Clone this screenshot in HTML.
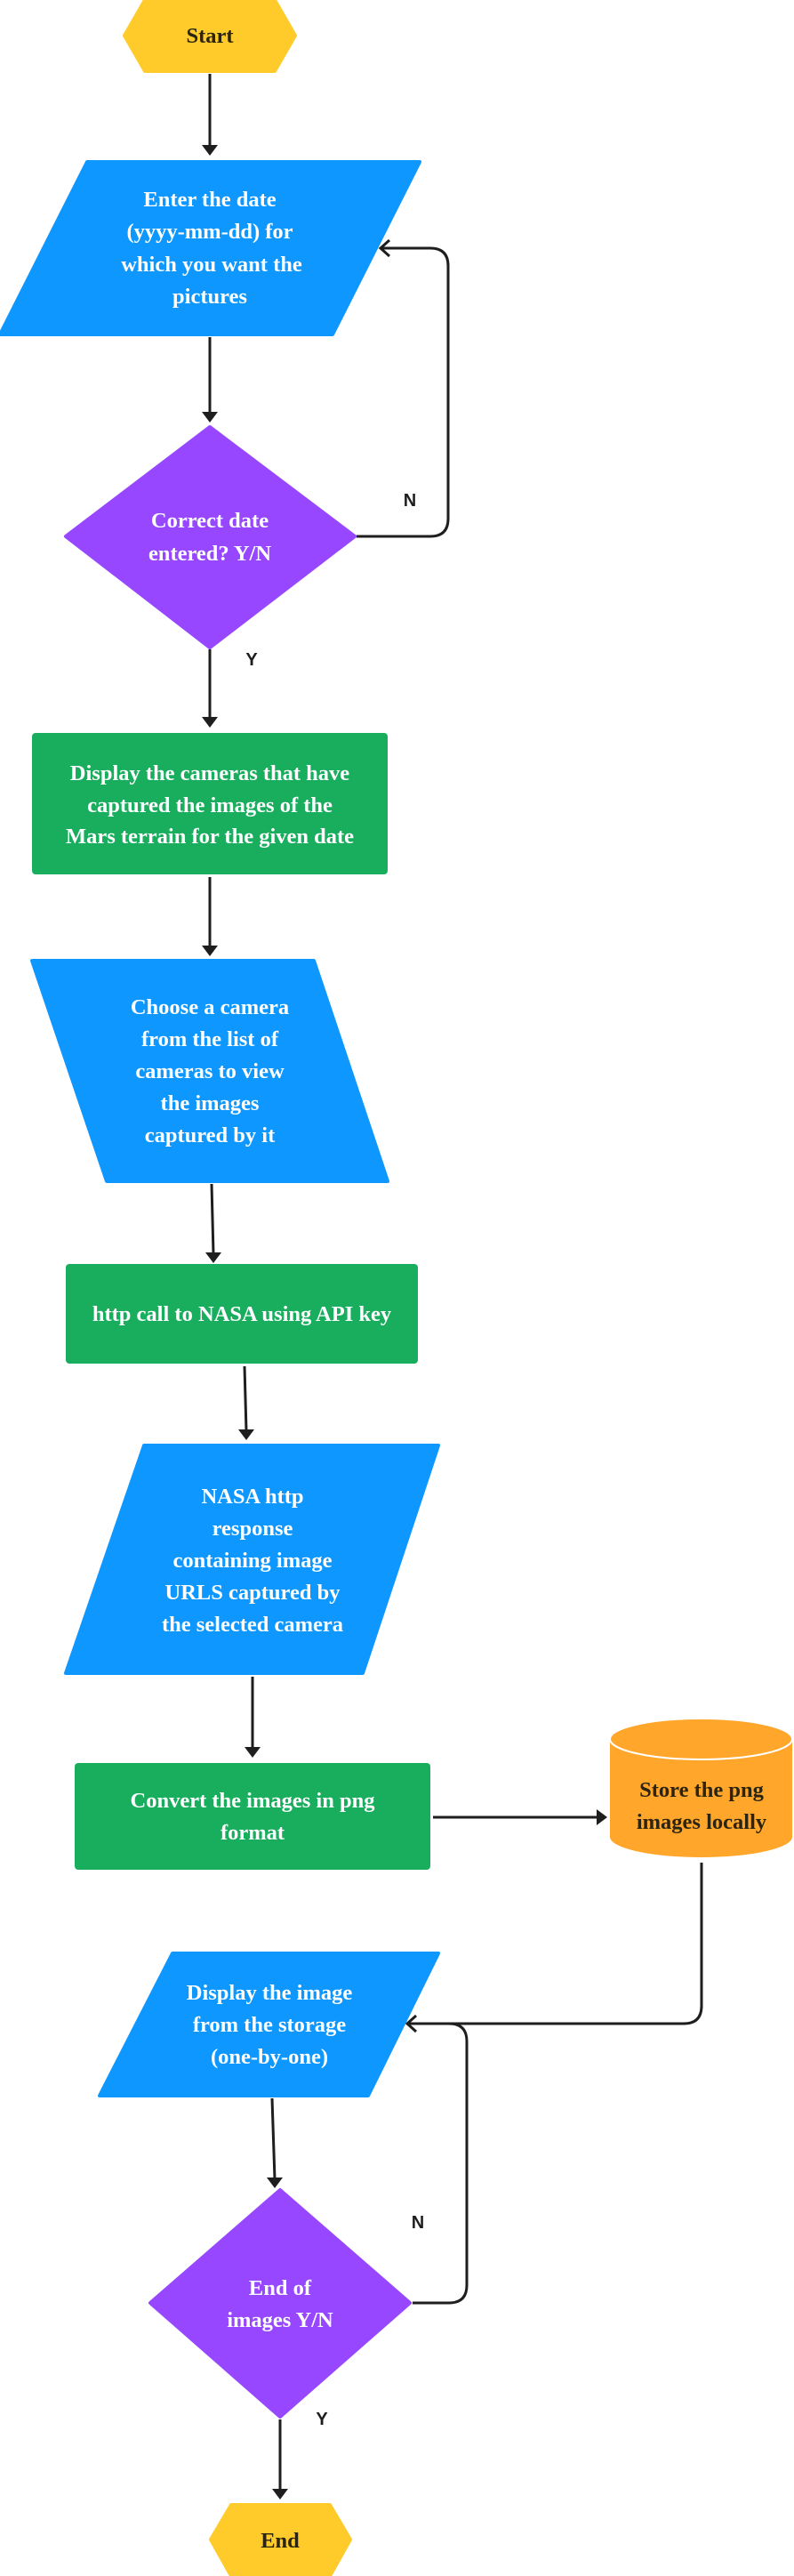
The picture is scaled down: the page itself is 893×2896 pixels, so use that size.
<!DOCTYPE html>
<html><head><meta charset="utf-8"><style>
html,body{margin:0;padding:0;background:#fff;}
svg{display:block;}
text{font-family:"Liberation Serif",serif;font-weight:bold;font-size:24.5px;text-anchor:middle;fill:#fff;}
.d{fill:#2b2410;}
.l{font-family:"Liberation Sans",sans-serif;font-size:20px;fill:#1e1e1e;}
.c{stroke:#1e1e1e;stroke-width:3;fill:none;}
</style></head><body>
<svg width="893" height="2896" viewBox="0 0 893 2896" xmlns="http://www.w3.org/2000/svg">
<!-- Start -->
<polygon points="163,0 309,0 332,40 309,80 163,80 140,40" fill="#FFCB2B" stroke="#FFCB2B" stroke-width="4" stroke-linejoin="round"/>
<text x="236" y="48" class="d">Start</text>
<line x1="236" y1="83" x2="236" y2="165" class="c"/><path d="M227,163 L245,163 L236,175 z" fill="#1e1e1e"/>
<!-- para1 -->
<polygon points="98,182 472,182 374,376 0,376" fill="#0E97FF" stroke="#0E97FF" stroke-width="4" stroke-linejoin="round"/>
<text x="236" y="232">Enter the date</text>
<text x="236" y="268">(yyyy-mm-dd) for</text>
<text x="238" y="305">which you want the</text>
<text x="236" y="341">pictures</text>
<line x1="236" y1="379" x2="236" y2="465" class="c"/><path d="M227,463 L245,463 L236,475 z" fill="#1e1e1e"/>
<!-- diamond1 -->
<polygon points="236,480 399,603 236,728 74,603" fill="#9747FF" stroke="#9747FF" stroke-width="4" stroke-linejoin="round"/>
<text x="236" y="593">Correct date</text>
<text x="236" y="630">entered? Y/N</text>
<path d="M401,603 L484,603 Q504,603 504,583 L504,299 Q504,279 484,279 L428,279" class="c"/>
<path d="M438,270 L428,279 L438,288" class="c"/>
<text x="461" y="569" class="l">N</text>
<text x="283" y="748" class="l">Y</text>
<line x1="236" y1="730" x2="236" y2="808" class="c"/><path d="M227,806 L245,806 L236,818 z" fill="#1e1e1e"/>
<!-- green1 -->
<rect x="36" y="824" width="400" height="159" rx="4" fill="#18AE5D"/>
<text x="236" y="877">Display the cameras that have</text>
<text x="236" y="913">captured the images of the</text>
<text x="236" y="948">Mars terrain for the given date</text>
<line x1="236" y1="986" x2="236" y2="1065" class="c"/><path d="M227,1063 L245,1063 L236,1075 z" fill="#1e1e1e"/>
<!-- para2 -->
<polygon points="36,1080 353,1080 436,1328 120,1328" fill="#0E97FF" stroke="#0E97FF" stroke-width="4" stroke-linejoin="round"/>
<text x="236" y="1140">Choose a camera</text>
<text x="236" y="1176">from the list of</text>
<text x="236" y="1212">cameras to view</text>
<text x="236" y="1248">the images</text>
<text x="236" y="1284">captured by it</text>
<line x1="238" y1="1331" x2="240" y2="1410" class="c"/><path d="M231,1408 L249,1408 L240,1420 z" fill="#1e1e1e"/>
<!-- green2 -->
<rect x="74" y="1421" width="396" height="112" rx="4" fill="#18AE5D"/>
<text x="272" y="1485">http call to NASA using API key</text>
<line x1="275" y1="1536" x2="277" y2="1609" class="c"/><path d="M268,1607 L286,1607 L277,1619 z" fill="#1e1e1e"/>
<!-- para3 -->
<polygon points="162,1625 493,1625 408,1881 74,1881" fill="#0E97FF" stroke="#0E97FF" stroke-width="4" stroke-linejoin="round"/>
<text x="284" y="1690">NASA http</text>
<text x="284" y="1726">response</text>
<text x="284" y="1762">containing image</text>
<text x="284" y="1798">URLS captured by</text>
<text x="284" y="1834">the selected camera</text>
<line x1="284" y1="1885" x2="284" y2="1966" class="c"/><path d="M275,1964 L293,1964 L284,1976 z" fill="#1e1e1e"/>
<!-- green3 -->
<rect x="84" y="1982" width="400" height="120" rx="4" fill="#18AE5D"/>
<text x="284" y="2032">Convert the images in png</text>
<text x="284" y="2068">format</text>
<line x1="487" y1="2043" x2="673" y2="2043" class="c"/><path d="M671,2034 L683,2043 L671,2052 z" fill="#1e1e1e"/>
<!-- cylinder -->
<path d="M686,1955 L686,2065 A102.5,23 0 0 0 891,2065 L891,1955 z" fill="#FFA62B"/>
<ellipse cx="788.5" cy="1955" rx="102.5" ry="23" fill="#FFA62B" stroke="#fff" stroke-width="2"/>
<text x="789" y="2020" class="d">Store the png</text>
<text x="789" y="2056" class="d">images locally</text>
<path d="M789,2094 L789,2255 Q789,2275 769,2275 L458,2275" class="c"/>
<path d="M468,2266 L458,2275 L468,2284" class="c"/>
<!-- para4 -->
<polygon points="194,2196 493,2196 414,2356 112,2356" fill="#0E97FF" stroke="#0E97FF" stroke-width="4" stroke-linejoin="round"/>
<text x="303" y="2248">Display the image</text>
<text x="303" y="2284">from the storage</text>
<text x="303" y="2320">(one-by-one)</text>
<line x1="306" y1="2359" x2="309" y2="2450" class="c"/><path d="M300,2448 L318,2448 L309,2460 z" fill="#1e1e1e"/>
<!-- diamond2 -->
<polygon points="315,2462 461,2589 315,2717 169,2589" fill="#9747FF" stroke="#9747FF" stroke-width="4" stroke-linejoin="round"/>
<text x="315" y="2580">End of</text>
<text x="315" y="2616">images Y/N</text>
<path d="M464,2589 L505,2589 Q525,2589 525,2569 L525,2295 Q525,2275 505,2275 L470,2275" class="c"/>
<text x="470" y="2505" class="l">N</text>
<text x="362" y="2726" class="l">Y</text>
<line x1="315" y1="2720" x2="315" y2="2800" class="c"/><path d="M306,2798 L324,2798 L315,2810 z" fill="#1e1e1e"/>
<!-- End -->
<polygon points="260,2816 371,2816 394,2855 371,2896 260,2896 237,2855" fill="#FFCB2B" stroke="#FFCB2B" stroke-width="4" stroke-linejoin="round"/>
<text x="315" y="2864" class="d">End</text>
</svg>
</body></html>
